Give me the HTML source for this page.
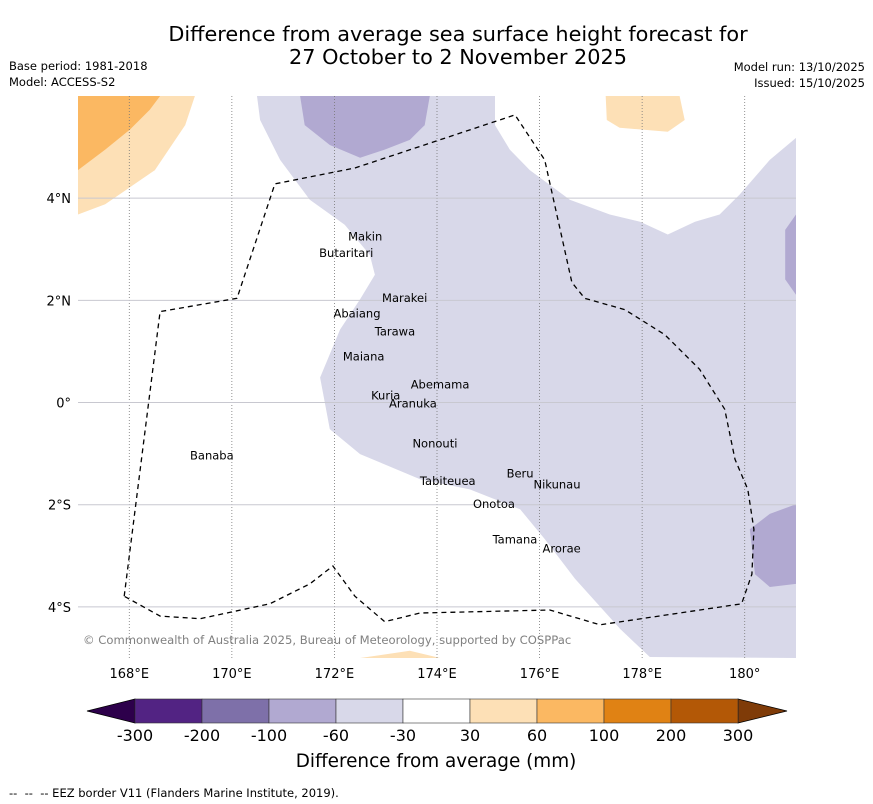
<!DOCTYPE html>
<html><head><meta charset="utf-8"><style>
body{margin:0;background:#fff;}
svg{display:block;font-family:"DejaVu Sans","Liberation Sans",sans-serif;}
</style></head><body>
<svg id="chart" width="873" height="804" viewBox="0 0 873 804">
<text x="458" y="41" text-anchor="middle" font-size="20.8">Difference from average sea surface height forecast for</text>
<text x="458" y="64" text-anchor="middle" font-size="20.8">27 October to 2 November 2025</text>
<text x="9" y="70" font-size="11.5">Base period: 1981-2018</text>
<text x="9" y="86" font-size="11.5">Model: ACCESS-S2</text>
<text x="865" y="71" font-size="11.5" text-anchor="end">Model run: 13/10/2025</text>
<text x="865" y="87" font-size="11.5" text-anchor="end">Issued: 15/10/2025</text>
<defs><clipPath id="mapclip"><rect x="78" y="96" width="718" height="562"/></clipPath></defs>
<g id="map" clip-path="url(#mapclip)"></g>
<g id="axes"></g>
<g id="cbar"></g>
<text x="436" y="767" text-anchor="middle" font-size="18.4">Difference from average (mm)</text>
<text x="9" y="797" font-size="11.5" xml:space="preserve">--  --  -- EEZ border V11 (Flanders Marine Institute, 2019).</text>
</svg>
<script>
const lonTicks=[168,170,172,174,176,178,180];
const lonTickLabels=["168°E","170°E","172°E","174°E","176°E","178°E","180°"];
const latTicks=[4,2,0,-2,-4];
const latTickLabels=["4°N","2°N","0°","2°S","4°S"];
const regionNames=["purple-light","purple-mid-top","purple-mid-right","purple-mid-bottom","orange-light-topleft","orange-mid-topleft","orange-light-topright","orange-light-bottom"];
const regionColors=["#d8d8e9","#b1a9d1","#b1a9d1","#b1a9d1","#fde0b6","#fbb862","#fde0b6","#fde0b6"];
const regionShapes=[
[[170.49,6.0],[170.55,5.53],[170.94,4.75],[171.52,3.97],[172.2,3.48],[172.69,2.89],[172.79,2.5],[172.5,2.02],[172.11,1.43],[171.72,0.49],[171.91,-0.52],[172.5,-1.01],[173.67,-1.5],[174.64,-1.7],[175.62,-2.09],[176.1,-2.67],[176.69,-3.45],[177.57,-4.43],[178.15,-4.98],[181,-5],[181,5.18],[180.49,4.75],[179.9,4.07],[179.51,3.68],[179.03,3.54],[178.5,3.29],[177.96,3.54],[177.37,3.68],[176.59,3.97],[175.81,4.55],[175.42,4.95],[175.13,5.43],[175.13,6.0]],
[[171.33,6],[171.42,5.43],[171.91,5.04],[172.5,4.79],[172.98,4.95],[173.47,5.14],[173.76,5.43],[173.86,6]],
[[181,3.68],[180.79,3.38],[180.79,2.41],[181,2.11]],
[[181,-1.99],[180.49,-2.18],[180.1,-2.48],[180.2,-3.36],[180.49,-3.61],[181,-3.55]],
[[167,3.68],[167.53,3.88],[168.5,4.55],[169.09,5.43],[169.28,6],[167,6]],
[[167,4.55],[167.53,4.95],[168.01,5.34],[168.4,5.73],[168.6,6],[167,6]],
[[177.29,6],[177.31,5.53],[177.56,5.38],[178.5,5.3],[178.83,5.53],[178.73,6]],
[[172.5,-5],[173.47,-4.86],[174.06,-5]]
];
const eezLon=[167.9,168.6,170.1,170.84,172.4,175.52,176.1,176.63,176.88,177.66,178.44,179.12,179.61,179.81,180.06,180.18,180.14,179.94,177.18,176.2,173.67,172.98,172.4,171.97,171.52,170.74,169.38,168.6,167.9];
const eezLat=[-3.79,1.78,2.04,4.28,4.59,5.63,4.75,2.35,2.04,1.82,1.33,0.65,-0.13,-1.11,-1.7,-2.48,-3.36,-3.94,-4.35,-4.06,-4.12,-4.29,-3.79,-3.2,-3.55,-3.94,-4.23,-4.18,-3.79];
const islandNames=["Makin","Butaritari","Marakei","Abaiang","Tarawa","Maiana","Abemama","Kuria","Aranuka","Nonouti","Banaba","Beru","Nikunau","Tabiteuea","Onotoa","Tamana","Arorae"];
const islandLon=[172.6,172.23,173.37,172.44,173.18,172.57,174.06,173.0,173.53,173.96,169.61,175.62,176.34,174.21,175.11,175.52,176.43];
const islandLat=[3.25,2.93,2.05,1.74,1.39,0.9,0.35,0.14,-0.02,-0.8,-1.04,-1.39,-1.6,-1.54,-1.99,-2.68,-2.86];
const cbarBounds=["-300","-200","-100","-60","-30","30","60","100","200","300"];
const cbarColors=["#522383","#7e70a9","#b1a9d1","#d8d8e9","#ffffff","#fde0b6","#fbb862","#e08214","#b35806"];
const cbarUnder="#2d004b", cbarOver="#7f3b08";

const NS="http://www.w3.org/2000/svg";
const X0=78,X1=796,Y0=96,Y1=658,LON0=167,LON1=181,LAT0=6,LAT1=-5;
const xs=lon=>X0+(lon-LON0)/(LON1-LON0)*(X1-X0);
const ys=lat=>Y0+(lat-LAT0)/(LAT1-LAT0)*(Y1-Y0);
function mk(tag,attrs,parent){const e=document.createElementNS(NS,tag);for(const k in attrs)e.setAttribute(k,attrs[k]);parent.appendChild(e);return e;}
const map=document.getElementById('map'),axes=document.getElementById('axes'),cb=document.getElementById('cbar');
regionShapes.forEach((pts,i)=>{
 const p=mk('polygon',{points:pts.map(q=>xs(q[0]).toFixed(1)+','+ys(q[1]).toFixed(1)).join(' '),fill:regionColors[i]},map);
 
 
});
lonTicks.forEach((v,i)=>{
 const l=mk('line',{x1:xs(v),x2:xs(v),y1:Y0,y2:Y1,stroke:'#777','stroke-width':0.8,'stroke-dasharray':'1,2'},map);
 
 
 const t=mk('text',{x:xs(v),y:678,'text-anchor':'middle','font-size':13},axes);t.textContent=lonTickLabels[i];
 
 
});
latTicks.forEach((v,i)=>{
 const l=mk('line',{x1:X0,x2:X1,y1:ys(v),y2:ys(v),stroke:'#c8c8d0','stroke-width':1},map);
 
 
 const t=mk('text',{x:71,y:ys(v)+5,'text-anchor':'end','font-size':13},axes);t.textContent=latTickLabels[i];
 
 
});
const eez=mk('polyline',{points:eezLon.map((v,i)=>xs(v).toFixed(1)+','+ys(eezLat[i]).toFixed(1)).join(' '),fill:'none',stroke:'#000','stroke-width':1.3,'stroke-dasharray':'5,4'},map);


islandNames.forEach((n,i)=>{
 const t=mk('text',{x:xs(islandLon[i]),y:ys(islandLat[i])+4,'text-anchor':'middle','font-size':11.5},map);t.textContent=n;
 
 
});
const cr=mk('text',{x:83,y:644,'font-size':11.6,fill:'#808080'},map);cr.textContent="© Commonwealth of Australia 2025, Bureau of Meteorology, supported by COSPPac";


const CX0=135,CX1=738,CY0=699,CY1=723,n=cbarColors.length,w=(CX1-CX0)/n;
const ul=mk('polygon',{points:`${CX0},${CY0} ${CX0},${CY1} 87,${(CY0+CY1)/2}`,fill:cbarUnder,stroke:'#000','stroke-width':0.8},cb);


const ov=mk('polygon',{points:`${CX1},${CY0} ${CX1},${CY1} 787,${(CY0+CY1)/2}`,fill:cbarOver,stroke:'#000','stroke-width':0.8},cb);


cbarColors.forEach((c,i)=>{
 const r=mk('rect',{x:CX0+i*w,y:CY0,width:w,height:CY1-CY0,fill:c,stroke:'#333','stroke-width':0.6},cb);
 
 
});
cbarBounds.forEach((b,i)=>{
 const t=mk('text',{x:CX0+i*w,y:741,'text-anchor':'middle','font-size':16},cb);t.textContent=b;
 
 
});
</script>
</body></html>
